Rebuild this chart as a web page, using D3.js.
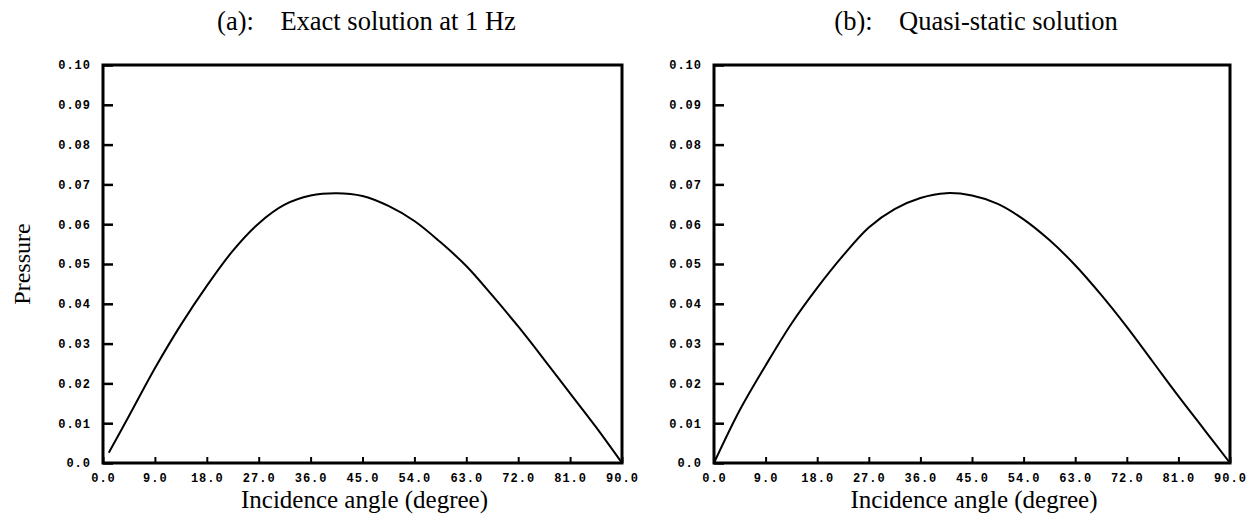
<!DOCTYPE html>
<html lang="en">

<head>
  <meta charset="UTF-8">
  <title>pressure vs incidence angle</title>
  <script src="https://cdn.jsdelivr.net/npm/d3@7"></script>
  <style type="text/css">
    body {
      margin: 0;
      background: #fff;
    }

    .title, .axis-title {
      font-family: "Liberation Serif", "DejaVu Serif", serif;
      fill: #000;
    }

    .tick text {
      font-family: "Liberation Mono", "DejaVu Sans Mono", monospace;
      font-weight: bold;
      font-size: 12px;
      letter-spacing: 1px;
      fill: #000;
    }
  </style>
</head>

<body>
  <script type="text/javascript">
    // data
    var exactAngles = [1.0, 4.5, 9, 13.5, 18, 22.5, 27, 31.5, 36, 40.5, 45, 49.5, 54, 58.5, 63, 67.5, 72, 76.5, 81, 85.5, 90]
    var exactPressure = [0.0026, 0.0118, 0.0238, 0.0347, 0.0445, 0.0533, 0.0602, 0.0649, 0.0672, 0.0678, 0.0671,
      0.0646, 0.0608, 0.0555, 0.0495, 0.0421, 0.0343, 0.0260, 0.0175, 0.0090, 0.0]
    var quasiAngles = [0, 4.5, 9, 13.5, 18, 22.5, 27, 31.5, 36, 40.5, 45, 49.5, 54, 58.5, 63, 67.5, 72, 76.5, 81, 85.5, 90]
    var quasiPressure = [0.0, 0.0133, 0.0245, 0.0350, 0.0440, 0.0521, 0.0592, 0.0638, 0.0666, 0.0678, 0.0672,
      0.0651, 0.0612, 0.0560, 0.0497, 0.0423, 0.0342, 0.0255, 0.0168, 0.0084, 0.0]
    var xTicks = [0, 9, 18, 27, 36, 45, 54, 63, 72, 81, 90]
    var yTicks = [0, 0.01, 0.02, 0.03, 0.04, 0.05, 0.06, 0.07, 0.08, 0.09, 0.10]

    var w = 1251
    var h = 516
    var plotTop = 65, plotBottom = 463

    var panels = [
      { title: '(a):\u2003Exact solution at 1 Hz', x0: 103, x1: 622, angles: exactAngles, values: exactPressure, ylabel: true },
      { title: '(b):\u2003Quasi-static solution', x0: 714, x1: 1230, angles: quasiAngles, values: quasiPressure, ylabel: false }
    ]

    var svg = d3.select('body').append('svg').attr('width', w).attr('height', h)

    panels.forEach(function (p) {
      var xScale = d3.scaleLinear().domain([0, 90]).range([p.x0, p.x1])
      var yScale = d3.scaleLinear().domain([0, 0.1]).range([plotBottom, plotTop])
      var g = svg.append('g')

      // title
      g.append('text').attr('class', 'title')
        .attr('x', (p.x0 + p.x1) / 2 + 4).attr('y', 30)
        .attr('text-anchor', 'middle').attr('font-size', '26.5px')
        .text(p.title)

      // axes (ticks point inward)
      var xAxis = d3.axisBottom(xScale).tickValues(xTicks).tickSizeInner(-6).tickSizeOuter(0)
        .tickPadding(10).tickFormat(d3.format('.1f'))
      g.append('g').attr('transform', 'translate(0,' + plotBottom + ')').call(xAxis)
        .call(function (a) { a.select('.domain').remove() })
        .selectAll('line').attr('stroke-width', 2)

      var yAxis = d3.axisLeft(yScale).tickValues(yTicks).tickSizeInner(-10).tickSizeOuter(0)
        .tickPadding(12).tickFormat(function (d) { return d === 0 ? '0.0' : d3.format('.2f')(d) })
      g.append('g').attr('transform', 'translate(' + p.x0 + ',0)').call(yAxis)
        .call(function (a) { a.select('.domain').remove() })
        .selectAll('line').attr('stroke-width', 2.5)

      // frame
      g.append('rect').attr('x', p.x0).attr('y', plotTop)
        .attr('width', p.x1 - p.x0).attr('height', plotBottom - plotTop)
        .attr('fill', 'none').attr('stroke', '#000').attr('stroke-width', 3)

      // curve
      var line = d3.line()
        .x(function (d, i) { return xScale(p.angles[i]) })
        .y(function (d) { return yScale(d) })
        .curve(d3.curveCatmullRom.alpha(0.5))
      g.append('path').datum(p.values).attr('d', line)
        .attr('fill', 'none').attr('stroke', '#000').attr('stroke-width', 2)

      // x axis title
      g.append('text').attr('class', 'axis-title')
        .attr('x', (p.x0 + p.x1) / 2 + 2).attr('y', 508)
        .attr('text-anchor', 'middle').attr('font-size', '25px')
        .text('Incidence angle (degree)')

      if (p.ylabel) {
        g.append('text').attr('class', 'axis-title')
          .attr('transform', 'translate(30,264) rotate(-90)')
          .attr('text-anchor', 'middle').attr('font-size', '24px')
          .text('Pressure')
      }
    })
  </script>
</body>

</html>
